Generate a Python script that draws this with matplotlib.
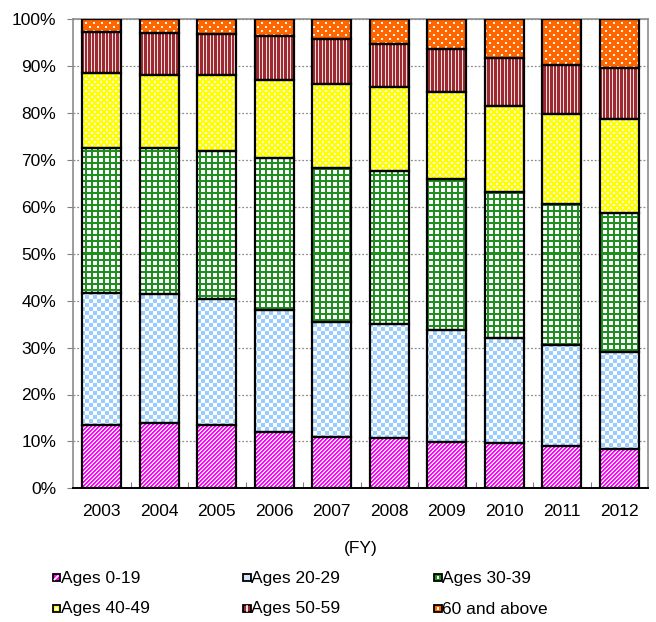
import numpy as np
import matplotlib
matplotlib.use("Agg")
import matplotlib.pyplot as plt
from matplotlib.path import Path
from matplotlib.patches import Rectangle
from matplotlib.lines import Line2D
from matplotlib.ticker import FixedLocator, FuncFormatter

plt.rcParams["font.family"] = ["Liberation Sans", "DejaVu Sans"]
plt.rcParams["font.size"] = 12.5

# ---- data: share of each age group (%) by fiscal year ----
years = ["2003", "2004", "2005", "2006", "2007", "2008", "2009", "2010", "2011", "2012"]
ages_0_19 = [13.6, 13.9, 13.4, 12.0, 10.9, 10.7, 9.9, 9.6, 9.1, 8.4]
ages_20_29 = [28.1, 27.5, 26.9, 26.0, 24.5, 24.3, 23.8, 22.4, 21.5, 20.6]
ages_30_39 = [30.9, 31.2, 31.7, 32.4, 32.8, 32.7, 32.2, 31.1, 30.1, 29.8]
ages_40_49 = [15.9, 15.6, 16.1, 16.7, 17.9, 17.9, 18.5, 18.5, 19.1, 19.9]
ages_50_59 = [8.8, 8.9, 8.8, 9.3, 9.6, 9.2, 9.3, 10.1, 10.4, 10.9]
ages_60_up = [2.7, 2.9, 3.1, 3.6, 4.3, 5.2, 6.3, 8.3, 9.9, 10.4]
labels = ["Ages 0-19", "Ages 20-29", "Ages 30-39", "Ages 40-49", "Ages 50-59", "60 and above"]
series = [ages_0_19, ages_20_29, ages_30_39, ages_40_49, ages_50_59, ages_60_up]

W_PX, H_PX = 656, 622
fig = plt.figure(figsize=(W_PX / 100, H_PX / 100), dpi=100)
ax_left, ax_right, ax_top, ax_bottom = 73, 648, 19.3, 488.3
ax = fig.add_axes([ax_left / W_PX, 1 - ax_bottom / H_PX,
                   (ax_right - ax_left) / W_PX, (ax_bottom - ax_top) / H_PX])


def rgb(h):
    h = h.lstrip("#")
    return np.array([int(h[k:k + 2], 16) for k in (0, 2, 4)], dtype=np.uint8)


WHITE = rgb("#ffffff")


def make_pattern(kind, h, w):
    """Fill pattern in screen pixels (row 0 = top)."""
    i, j = np.mgrid[0:h, 0:w]
    img = np.empty((h, w, 3), dtype=np.uint8)
    img[:] = WHITE
    if kind == "diag":
        mask = ((i + j) % 4) < 2
        img[mask] = rgb("#ff00ff")
        img[((i + j) % 4) == 2] = rgb("#ffb3ff")
    elif kind == "check_blue":
        mask = ((i // 4) + (j // 4)) % 2 == 0
        img[mask] = rgb("#99ccff")
    elif kind == "grid_green":
        mask = ((i % 6) < 2) | ((j % 6) < 2)
        img[mask] = rgb("#1f8f1f")
    elif kind == "check_yellow":
        img[:] = rgb("#ffff00")
        mask = (((i // 3) + (j // 3)) % 2 == 0) & ((i % 3) < 2) & ((j % 3) < 2)
        img[mask] = WHITE
    elif kind == "vstripe":
        img[:] = rgb("#9c2a30")
        mask = ((2 * j) % 7) < 2
        img[mask] = rgb("#f2dcdc")
    elif kind == "dots":
        img[:] = rgb("#ff6600")
        mask = (((i % 8) < 2) & ((j % 8) < 2)) | ((((i % 8) >= 4) & ((i % 8) < 6)) & (((j % 8) >= 4) & ((j % 8) < 6)))
        img[mask] = rgb("#fff4ea")
    return img


kinds = ["diag", "check_blue", "grid_green", "check_yellow", "vstripe", "dots"]
swatch_colors = ["#ff00ff", "#cfe6ff", "#1f8f1f", "#ffff00", "#9c2a30", "#ff6600"]

x = np.arange(len(years))
bar_w = 0.68
xlim = (-0.5, len(years) - 0.5)
ylim = (0, 100)

pix_w = int(round(ax_right - ax_left))
pix_h = int(round(ax_bottom - ax_top))

bottom = np.zeros(len(years))
for vals, kind in zip(series, kinds):
    vals = np.asarray(vals, dtype=float)
    bars = ax.bar(x, vals, width=bar_w, bottom=bottom, facecolor="none",
                  edgecolor="black", linewidth=1.6, zorder=3)
    # compound clip path of all segments of this series, in data coords
    paths = [r.get_path().transformed(r.get_patch_transform()) for r in bars.patches]
    clip = Path.make_compound_path(*paths)
    im = ax.imshow(make_pattern(kind, pix_h, pix_w), extent=(xlim[0], xlim[1], ylim[0], ylim[1]),
                   origin="upper", aspect="auto", interpolation="nearest", zorder=2)
    im.set_clip_path(clip, ax.transData)
    bottom += vals

ax.set_xlim(*xlim)
ax.set_ylim(*ylim)

# y axis
ax.yaxis.set_major_locator(FixedLocator(np.arange(0, 101, 10)))
ax.yaxis.set_major_formatter(FuncFormatter(lambda v, p: f"{int(round(v))}%"))
ax.tick_params(axis="y", direction="out", length=4, width=0.8, color="#808080", pad=8,
               labelsize=12.5, labelcolor="black")
ax.grid(axis="y", linestyle=(0, (1.5, 1.5)), color="#8c8c8c", linewidth=0.9)
ax.set_axisbelow(True)

# x axis: labels at centres, small inward ticks between categories
ax.set_xticks(x)
ax.set_xticklabels(years)
ax.tick_params(axis="x", which="major", length=0, pad=11, labelsize=12.5)
ax.xaxis.set_minor_locator(FixedLocator(np.arange(0.5, len(years) - 1, 1.0)))
ax.tick_params(axis="x", which="minor", direction="in", length=4, width=0.8, color="#808080")
ax.set_xlabel("(FY)", fontsize=12.5, labelpad=16)

for side in ("left", "top", "right"):
    ax.spines[side].set_color("#8c8c8c")
    ax.spines[side].set_linewidth(1.2)
ax.spines["bottom"].set_color("black")
ax.spines["bottom"].set_linewidth(1.4)

# legend: 2 rows x 3 columns below the chart
col_x = [52.5, 243, 434]
row_base = [582.5, 613.5]
sq = 7.5


def fx(px):
    return px / W_PX


def fy(py):
    return 1 - py / H_PX


for k, (lab, col) in enumerate(zip(labels, swatch_colors)):
    r, c = divmod(k, 3)
    x0 = col_x[c]
    yb = row_base[r]
    yc = yb - 4.8
    y_top = yc - sq / 2
    fig.add_artist(Rectangle((fx(x0), fy(y_top + sq)), sq / W_PX, sq / H_PX,
                             transform=fig.transFigure, facecolor=col, edgecolor="black",
                             linewidth=1.3, zorder=1))
    # small white accent inside each swatch, echoing its fill pattern
    if k == 0:
        fig.add_artist(Line2D([fx(x0 + 2), fx(x0 + sq - 2)], [fy(y_top + sq - 2), fy(y_top + 2)],
                              transform=fig.transFigure, color="white", linewidth=1.2, zorder=2))
    elif k == 4:
        fig.add_artist(Line2D([fx(x0 + sq / 2), fx(x0 + sq / 2)], [fy(y_top + 1.5), fy(y_top + sq - 1.5)],
                              transform=fig.transFigure, color="white", linewidth=1.2, zorder=2))
    elif k in (2, 3, 5):
        fig.add_artist(Rectangle((fx(x0 + 2.5), fy(y_top + sq - 2.5)), 2.5 / W_PX, 2.5 / H_PX,
                                 transform=fig.transFigure, facecolor="white", edgecolor="none",
                                 zorder=2))
    fig.text(fx(x0 + sq + 0.8), fy(yb), lab, fontsize=12.5, ha="left", va="baseline")

fig.savefig("out.png", dpi=100)
